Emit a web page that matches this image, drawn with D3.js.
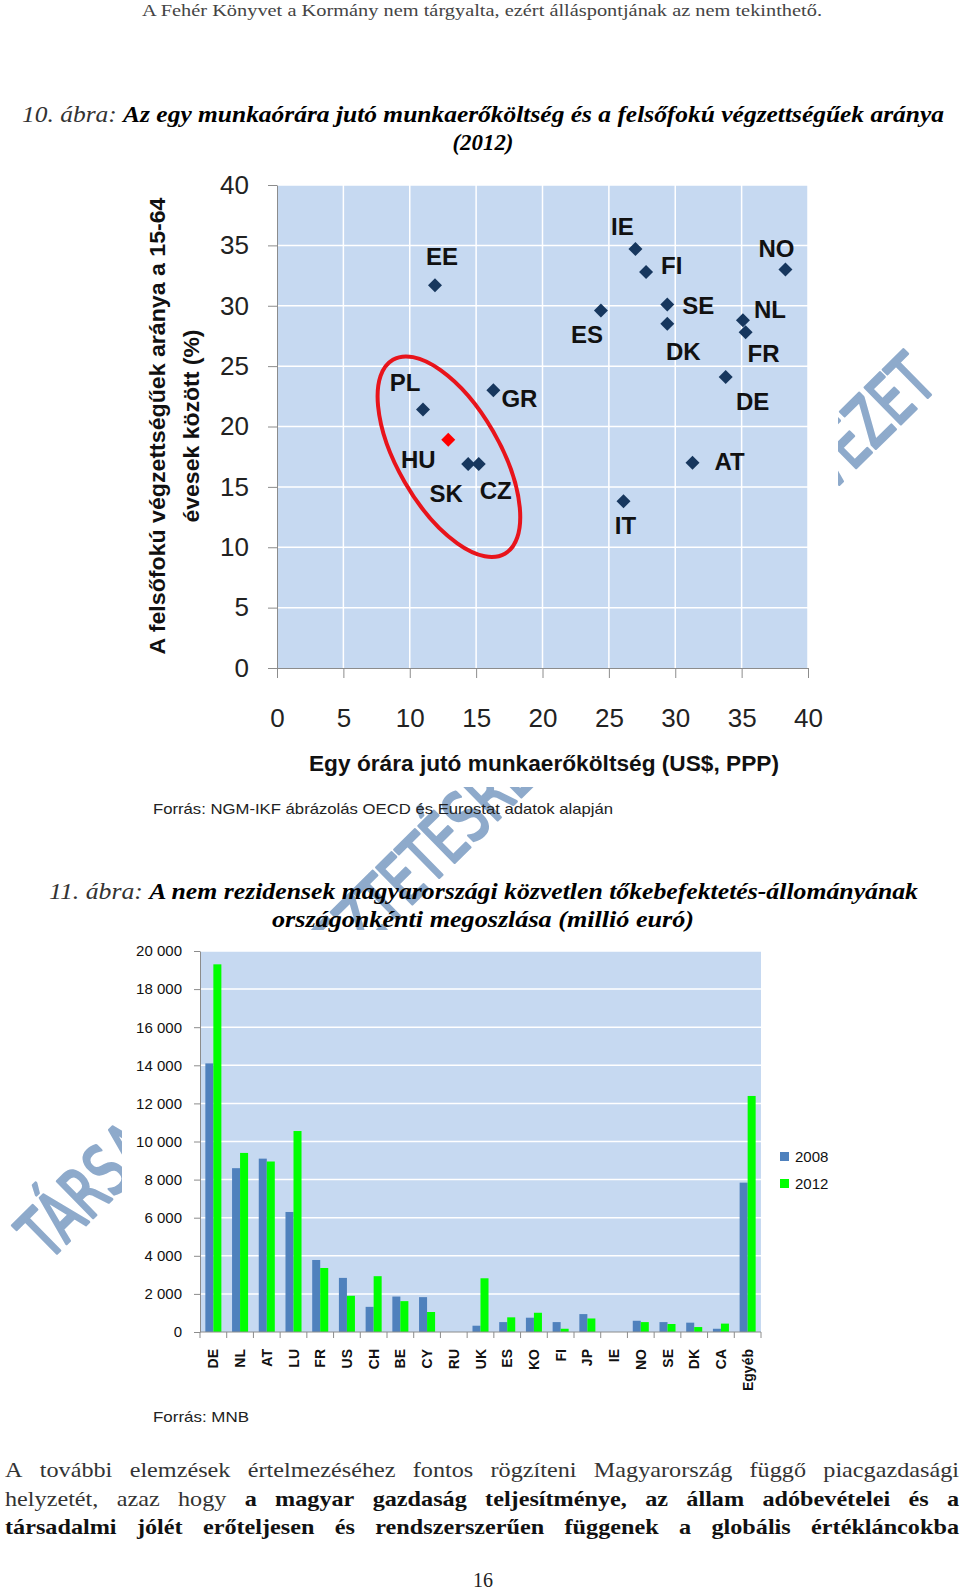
<!DOCTYPE html>
<meta charset="utf-8">
<style>
body { margin: 0; background: #fff; }
svg { display: block; }
</style>
<body>
<script src="https://cdn.jsdelivr.net/npm/d3@7"></script>
<script>

var width = 960,
    height = 1592;

var serif = '"Liberation Serif", "DejaVu Serif", serif';
var sans = '"Liberation Sans", Arial, sans-serif';

// --- 10. ábra: labour cost vs tertiary share (2012)
var countries = ["EE", "PL", "HU", "SK", "CZ", "GR", "ES", "IE", "FI", "SE", "DK", "NO", "NL", "FR", "DE", "AT", "IT"];
var laborCost = [11.9, 11.0, 12.9, 14.4, 15.2, 16.3, 24.4, 27.0, 27.8, 29.4, 29.4, 38.3, 35.1, 35.3, 33.8, 31.3, 26.1];
var tertiaryShare = [31.7, 21.4, 18.9, 16.9, 16.9, 23.0, 29.6, 34.7, 32.8, 30.1, 28.5, 33.0, 28.8, 27.8, 24.1, 17.0, 13.8];
var highlighted = ["HU"];
var scatterTicks = [0, 5, 10, 15, 20, 25, 30, 35, 40];
var ringCenter = [12.95, 17.5]; // the red ellipse round the CEE group, data units

// --- 11. ábra: inward FDI stock by country (million EUR)
var partners = ["DE", "NL", "AT", "LU", "FR", "US", "CH", "BE", "CY", "RU", "UK", "ES", "KO", "FI", "JP", "IE", "NO", "SE", "DK", "CA", "Egyéb"];
var fdi2008 = [14100, 8600, 9100, 6300, 3780, 2840, 1320, 1860, 1830, 0, 330, 520, 750, 520, 940, 0, 590, 520, 490, 170, 7840];
var fdi2012 = [19300, 9400, 8950, 10550, 3360, 1900, 2930, 1620, 1050, 0, 2820, 770, 1010, 170, 710, 0, 520, 420, 260, 440, 12390];
var barYears = ["2008", "2012"];
var barTicks = [0, 2000, 4000, 6000, 8000, 10000, 12000, 14000, 16000, 18000, 20000];

// label placement for the scatter: dx, dy (px from marker), anchor
var labelPlace = {
  EE: [7, -20, "middle"], PL: [-18, -19, "middle"], HU: [-30, 28, "middle"],
  SK: [-22, 38, "middle"], CZ: [17, 35, "middle"], GR: [8, 17, "start"],
  ES: [-14, 32, "middle"], IE: [-13, -14, "middle"], FI: [15, 2, "start"],
  SE: [15, 9, "start"], DK: [16, 36, "middle"], NO: [-9, -13, "middle"],
  NL: [11, -2, "start"], FR: [18, 30, "middle"], DE: [27, 33, "middle"],
  AT: [22, 7, "start"], IT: [2, 33, "middle"]
};

var svg = d3.select("body").append("svg")
    .attr("width", width)
    .attr("height", height);

// watermark, sits under the two chart pictures
svg.append("text")
  .attr("transform", "translate(48,1262) rotate(-44.5)")
  .attr("textLength", 1250)
  .attr("lengthAdjust", "spacingAndGlyphs")
  .style("font-family", '"DejaVu Sans", sans-serif')
  .style("font-size", "70px")
  .attr("fill", "#8eaacb")
  .attr("stroke", "#8eaacb")
  .attr("stroke-width", 3)
  .attr("stroke-linejoin", "round")
  .text("TÁRSADALMI EGYEZTETÉSRE BOCSÁTOTT TERVEZET");

svg.append("rect").attr("x", 128).attr("y", 163).attr("width", 710).attr("height", 624).attr("fill", "#fff");
svg.append("rect").attr("x", 122).attr("y", 930).attr("width", 713).attr("height", 475).attr("fill", "#fff");

// page header
svg.append("text")
  .attr("x", 482).attr("y", 16)
  .attr("text-anchor", "middle")
  .attr("textLength", 680).attr("lengthAdjust", "spacingAndGlyphs")
  .style("font-family", serif).style("font-size", "17px")
  .attr("fill", "#444")
  .text("A Fehér Könyvet a Kormány nem tárgyalta, ezért álláspontjának az nem tekinthető.");

function figTitle(x, y, anchor, len, lead, rest) {
  var t = svg.append("text")
    .attr("x", x).attr("y", y)
    .attr("text-anchor", anchor)
    .attr("textLength", len).attr("lengthAdjust", "spacingAndGlyphs")
    .style("font-family", serif).style("font-size", "23px")
    .style("font-style", "italic");
  if (lead) t.append("tspan").attr("fill", "#333").text(lead);
  t.append("tspan").attr("font-weight", "bold").attr("fill", "#000").text(rest);
}

figTitle(22, 122, "start", 922, "10. ábra: ", "Az egy munkaórára jutó munkaerőköltség és a felsőfokú végzettségűek aránya");
figTitle(483, 150, "middle", 61, null, "(2012)");
figTitle(49, 899, "start", 869, "11. ábra: ", "A nem rezidensek magyarországi közvetlen tőkebefektetés-állományának");
figTitle(483, 927, "middle", 422, null, "országonkénti megoszlása (millió euró)");

// ---------- scatter ----------
var sx = d3.scaleLinear().domain([0, 40]).range([277, 808]);
var sy = d3.scaleLinear().domain([0, 40]).range([668, 185]);

var sc = svg.append("g");

sc.append("rect")
  .attr("x", sx(0)).attr("y", sy(40))
  .attr("width", sx(40) - sx(0)).attr("height", sy(0) - sy(40))
  .attr("fill", "#c6d9f1");

sc.selectAll("line.gx")
  .data(scatterTicks.slice(1))
  .enter().append("line")
  .attr("class", "gx")
  .attr("x1", function(d) { return sx(d); }).attr("x2", function(d) { return sx(d); })
  .attr("y1", sy(0)).attr("y2", sy(40))
  .attr("stroke", "#fff").attr("stroke-width", 1.5);

sc.selectAll("line.gy")
  .data(scatterTicks.slice(1))
  .enter().append("line")
  .attr("class", "gy")
  .attr("x1", sx(0)).attr("x2", sx(40))
  .attr("y1", function(d) { return sy(d); }).attr("y2", function(d) { return sy(d); })
  .attr("stroke", "#fff").attr("stroke-width", 1.5);

var axX = sc.append("g")
  .attr("transform", "translate(0," + sy(0) + ")")
  .call(d3.axisBottom(sx).tickValues(scatterTicks).tickSize(10).tickSizeOuter(0).tickPadding(31));
var axY = sc.append("g")
  .attr("transform", "translate(" + sx(0) + ",0)")
  .call(d3.axisLeft(sy).tickValues(scatterTicks).tickSize(9).tickSizeOuter(0).tickPadding(19));

[axX, axY].forEach(function(a) {
  a.select(".domain").attr("stroke", "#8c8c8c");
  a.selectAll(".tick line").attr("stroke", "#8c8c8c");
  a.selectAll(".tick text")
    .style("font-family", sans).style("font-size", "26px")
    .attr("fill", "#222");
});

sc.append("ellipse")
  .attr("transform", "translate(" + sx(ringCenter[0]) + "," + sy(ringCenter[1]) + ") rotate(60)")
  .attr("rx", 112).attr("ry", 51)
  .attr("fill", "none")
  .attr("stroke", "#e8141b")
  .attr("stroke-width", 4);

var diamond = d3.symbol().type(d3.symbolSquare).size(98);

sc.selectAll("path.pt")
  .data(countries)
  .enter().append("path")
  .attr("class", "pt")
  .attr("d", diamond)
  .attr("transform", function(d, i) {
    return "translate(" + sx(laborCost[i]) + "," + sy(tertiaryShare[i]) + ") rotate(45)";
  })
  .attr("fill", function(d) { return highlighted.indexOf(d) >= 0 ? "#ff0000" : "#17375e"; });

sc.selectAll("text.lbl")
  .data(countries)
  .enter().append("text")
  .attr("class", "lbl")
  .attr("x", function(d, i) { return sx(laborCost[i]) + labelPlace[d][0]; })
  .attr("y", function(d, i) { return sy(tertiaryShare[i]) + labelPlace[d][1]; })
  .attr("text-anchor", function(d) { return labelPlace[d][2]; })
  .style("font-family", sans).style("font-size", "24px").style("font-weight", "bold")
  .attr("fill", "#111")
  .text(function(d) { return d; });

sc.append("text")
  .attr("transform", "translate(165,426) rotate(-90)")
  .attr("text-anchor", "middle")
  .attr("textLength", 457).attr("lengthAdjust", "spacingAndGlyphs")
  .style("font-family", sans).style("font-size", "22px").style("font-weight", "bold")
  .attr("fill", "#111")
  .text("A felsőfokú végzettségűek aránya a 15-64");

sc.append("text")
  .attr("transform", "translate(199,426) rotate(-90)")
  .attr("text-anchor", "middle")
  .attr("textLength", 193).attr("lengthAdjust", "spacingAndGlyphs")
  .style("font-family", sans).style("font-size", "22px").style("font-weight", "bold")
  .attr("fill", "#111")
  .text("évesek között (%)");

sc.append("text")
  .attr("x", 544).attr("y", 771)
  .attr("text-anchor", "middle")
  .attr("textLength", 470).attr("lengthAdjust", "spacingAndGlyphs")
  .style("font-family", sans).style("font-size", "22px").style("font-weight", "bold")
  .attr("fill", "#111")
  .text("Egy órára jutó munkaerőköltség (US$, PPP)");

svg.append("text")
  .attr("x", 153).attr("y", 814)
  .attr("textLength", 460).attr("lengthAdjust", "spacingAndGlyphs")
  .style("font-family", sans).style("font-size", "15px")
  .attr("fill", "#222")
  .text("Forrás: NGM-IKF ábrázolás OECD és Eurostat adatok alapján");

// ---------- bars ----------
var bx = d3.scaleBand().domain(partners).range([200, 761]).paddingInner(0.4).paddingOuter(0.2);
var bx1 = d3.scaleBand().domain(barYears).range([0, bx.bandwidth()]);
var by = d3.scaleLinear().domain([0, 20000]).range([1332, 951]);
var barColor = d3.scaleOrdinal().domain(barYears).range(["#4f81bd", "#00ff00"]);

var bc = svg.append("g");

bc.append("rect")
  .attr("x", 200).attr("y", by(20000))
  .attr("width", 561).attr("height", by(0) - by(20000))
  .attr("fill", "#c6d9f1");

bc.selectAll("line.grid")
  .data(barTicks.slice(1))
  .enter().append("line")
  .attr("class", "grid")
  .attr("x1", 200).attr("x2", 761)
  .attr("y1", function(d) { return by(d); }).attr("y2", function(d) { return by(d); })
  .attr("stroke", "#fff").attr("stroke-width", 1.5);

var rows = partners.map(function(p, i) { return { p: p, v: [fdi2008[i], fdi2012[i]] }; });

bc.selectAll("g.grp")
  .data(rows)
  .enter().append("g")
  .attr("class", "grp")
  .attr("transform", function(d) { return "translate(" + bx(d.p) + ",0)"; })
  .selectAll("rect")
  .data(function(d) { return d.v.map(function(v, j) { return { year: barYears[j], v: v }; }); })
  .enter().append("rect")
  .attr("x", function(d) { return bx1(d.year); })
  .attr("y", function(d) { return by(d.v); })
  .attr("width", bx1.bandwidth())
  .attr("height", function(d) { return by(0) - by(d.v); })
  .attr("fill", function(d) { return barColor(d.year); });

var byAxis = bc.append("g")
  .attr("transform", "translate(200,0)")
  .call(d3.axisLeft(by).tickValues(barTicks).tickSize(6).tickSizeOuter(0).tickPadding(12)
    .tickFormat(function(d) { return d3.format(",")(d).replace(",", " "); }));
byAxis.select(".domain").attr("stroke", "#8c8c8c");
byAxis.selectAll(".tick line").attr("stroke", "#8c8c8c");
byAxis.selectAll(".tick text").style("font-family", sans).style("font-size", "15px").attr("fill", "#111");

// category axis: ticks sit on the boundaries between groups
var bounds = d3.range(partners.length + 1).map(function(i) { return 200 + i * bx.step(); });
bc.append("line")
  .attr("x1", 200).attr("x2", 761).attr("y1", by(0)).attr("y2", by(0))
  .attr("stroke", "#8c8c8c");
bc.selectAll("line.btick")
  .data(bounds)
  .enter().append("line")
  .attr("class", "btick")
  .attr("x1", function(d) { return d; }).attr("x2", function(d) { return d; })
  .attr("y1", by(0)).attr("y2", by(0) + 6)
  .attr("stroke", "#8c8c8c");

bc.selectAll("text.cat")
  .data(partners)
  .enter().append("text")
  .attr("class", "cat")
  .attr("transform", function(d) { return "translate(" + (bx(d) + bx.bandwidth() / 2 + 5) + ",1349) rotate(-90)"; })
  .attr("text-anchor", "end")
  .style("font-family", sans).style("font-size", "14px").style("font-weight", "bold")
  .attr("fill", "#111")
  .text(function(d) { return d; });

var leg = bc.selectAll("g.leg")
  .data(barYears)
  .enter().append("g")
  .attr("class", "leg")
  .attr("transform", function(d, i) { return "translate(780," + (1152 + i * 27) + ")"; });
leg.append("rect").attr("width", 9).attr("height", 9).attr("fill", function(d) { return barColor(d); });
leg.append("text")
  .attr("x", 15).attr("y", 10)
  .style("font-family", sans).style("font-size", "15px")
  .attr("fill", "#111")
  .text(function(d) { return d; });

svg.append("text")
  .attr("x", 153).attr("y", 1422)
  .attr("textLength", 96).attr("lengthAdjust", "spacingAndGlyphs")
  .style("font-family", sans).style("font-size", "15px")
  .attr("fill", "#222")
  .text("Forrás: MNB");

// ---------- body text, justified ----------
var paraLines = [
  [["A további elemzések értelmezéséhez fontos rögzíteni Magyarország függő piacgazdasági", false]],
  [["helyzetét, azaz hogy", false], ["a magyar gazdaság teljesítménye, az állam adóbevételei és a", true]],
  [["társadalmi jólét erőteljesen és rendszerszerűen függenek a globális értékláncokba", true]]
];
var paraLeft = 5, paraRight = 959, paraBase = [1477, 1506, 1534];
var stretch = 1.1; // the book face is wider than Liberation Serif

paraLines.forEach(function(line, li) {
  var words = [];
  line.forEach(function(seg) {
    seg[0].split(" ").forEach(function(w) { words.push({ w: w, bold: seg[1] }); });
  });
  var nodes = words.map(function(d) {
    return svg.append("text")
      .attr("y", paraBase[li])
      .style("font-family", serif).style("font-size", "22px")
      .style("font-weight", d.bold ? "bold" : "normal")
      .attr("fill", d.bold ? "#111" : "#333")
      .text(d.w);
  });
  var widths = nodes.map(function(n) { return n.node().getComputedTextLength() * stretch; });
  var gap = (paraRight - paraLeft - d3.sum(widths)) / (nodes.length - 1);
  var x = paraLeft;
  nodes.forEach(function(n, i) {
    n.attr("x", x)
      .attr("textLength", widths[i])
      .attr("lengthAdjust", "spacingAndGlyphs");
    x += widths[i] + gap;
  });
});

svg.append("text")
  .attr("x", 483).attr("y", 1587)
  .attr("text-anchor", "middle")
  .style("font-family", serif).style("font-size", "20px")
  .attr("fill", "#222")
  .text("16");

</script>
